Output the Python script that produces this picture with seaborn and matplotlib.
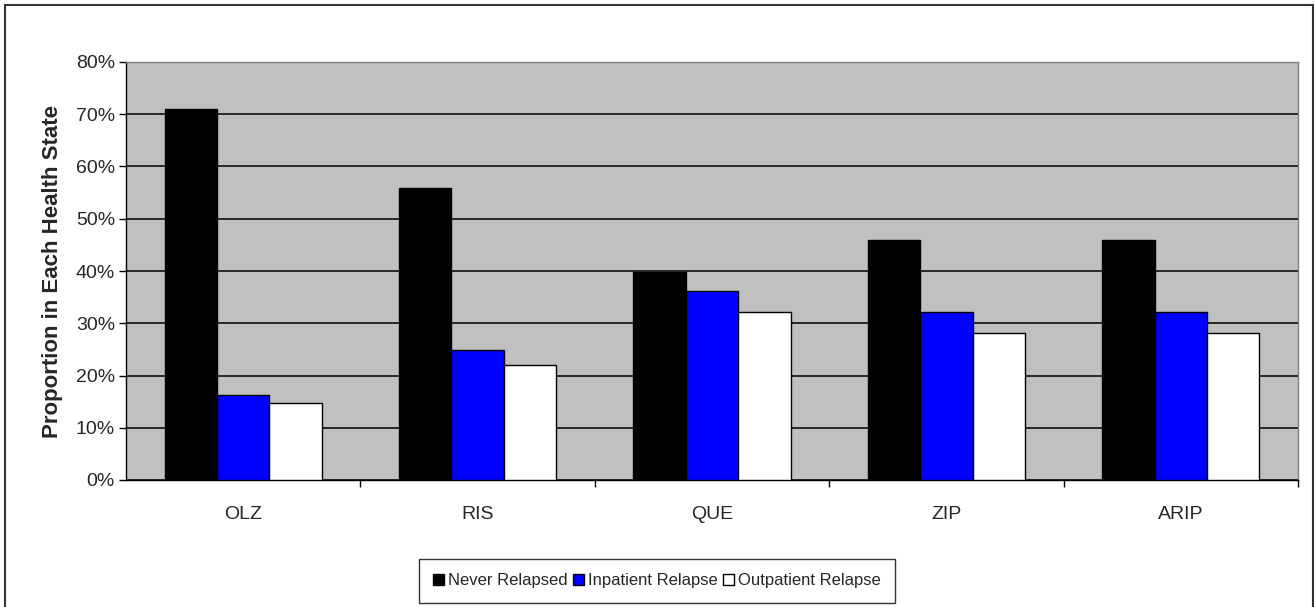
import numpy as np
import pandas as pd
import matplotlib
matplotlib.use('Agg')
import matplotlib.pyplot as plt
import seaborn as sns
from matplotlib.patches import Rectangle
from matplotlib.ticker import FixedLocator, PercentFormatter

drugs = ["OLZ", "RIS", "QUE", "ZIP", "ARIP"]
states = ["Never Relapsed", "Inpatient Relapse", "Outpatient Relapse"]
never_relapsed = [71.0, 55.8, 39.8, 46.0, 46.0]
inpatient_relapse = [16.2, 24.9, 36.2, 32.1, 32.1]
outpatient_relapse = [14.8, 22.0, 32.2, 28.1, 28.1]
state_colors = ["#000000", "#0000FF", "#FFFFFF"]

df = pd.DataFrame({
    "Drug": drugs * 3,
    "State": [s for s in states for _ in drugs],
    "Value": never_relapsed + inpatient_relapse + outpatient_relapse,
})

sns.set_style("white")
plt.rcParams['font.family'] = ['Liberation Sans', 'DejaVu Sans']

fig = plt.figure(figsize=(13.15, 6.07), dpi=100)
ax = fig.add_axes([126 / 1315, 1 - 480 / 607, 1172 / 1315, 418 / 607])
ax.set_facecolor("#C0C0C0")

sns.barplot(data=df, x="Drug", y="Value", hue="State", order=drugs,
            hue_order=states, palette=state_colors, saturation=1, width=0.67,
            edgecolor="black", linewidth=1.0, ax=ax, zorder=3)

ax.set_ylim(0, 80)
ax.set_xlim(-0.5, 4.5)
ax.set_yticks(np.arange(0, 81, 10))
ax.yaxis.set_major_formatter(PercentFormatter(decimals=0))
ax.yaxis.grid(True, color="black", linewidth=1.1, zorder=0)
ax.set_axisbelow(True)

ax.tick_params(axis="y", which="major", direction="out", length=5, width=1,
               color="black", labelsize=14, pad=3, left=True)
ax.tick_params(axis="x", which="major", length=0, labelsize=14, pad=19)
ax.xaxis.set_minor_locator(FixedLocator(np.arange(0.5, 4.6, 1.0)))
ax.tick_params(axis="x", which="minor", direction="out", length=5, width=1,
               color="black", bottom=True)

ax.set_xlabel("")
ax.set_ylabel("Proportion in Each Health State", fontsize=16, fontweight="bold",
              labelpad=9)

for side in ["left", "bottom"]:
    ax.spines[side].set_color("black")
    ax.spines[side].set_linewidth(1.0)
for side in ["top", "right"]:
    ax.spines[side].set_visible(True)
    ax.spines[side].set_color("#808080")
    ax.spines[side].set_linewidth(1.0)

handles, labels = ax.get_legend_handles_labels()
ax.get_legend().remove()
leg = fig.legend(handles, labels, loc="center", bbox_to_anchor=(657 / 1315, 1 - 581 / 607),
                 ncol=3, fontsize=12, frameon=True, fancybox=False, edgecolor="black",
                 handlelength=0.65, handleheight=0.65, handletextpad=0.25,
                 columnspacing=0.3, borderpad=0.85, borderaxespad=0)
leg.get_frame().set_linewidth(1.0)

fig.patches.append(Rectangle((5 / 1315, -0.02), 1308 / 1315, 1.02 - 5 / 607,
                             transform=fig.transFigure, fill=False,
                             edgecolor="#333333", linewidth=1.5))

fig.savefig("out.png", dpi=100, facecolor="white")
plt.close(fig)
